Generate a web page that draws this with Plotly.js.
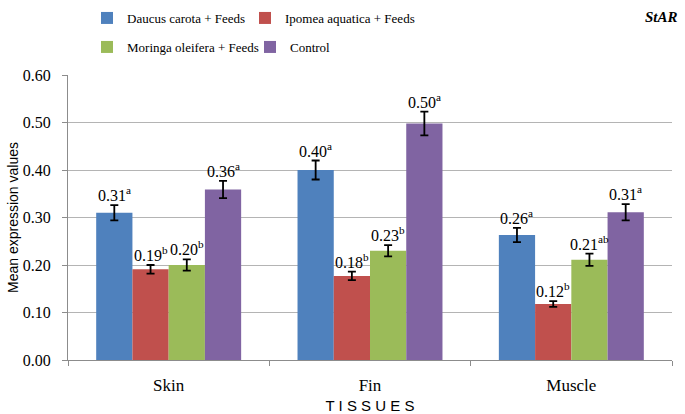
<!DOCTYPE html>
<html>
<head>
<meta charset="utf-8">
<script src="https://cdn.plot.ly/plotly-3.0.1.min.js"></script>
<style>
  body { margin: 0; background: #ffffff; }
  #chart { width: 685px; height: 414px; }
</style>
</head>
<body>
<div id="chart"></div>
<script>
// tissues on the x axis
var tissues = ["Skin", "Fin", "Muscle"];

// mean expression per treatment (Skin, Fin, Muscle)
var daucus   = [0.310, 0.400, 0.263];
var ipomea   = [0.191, 0.177, 0.118];
var moringa  = [0.200, 0.230, 0.211];
var control  = [0.359, 0.498, 0.311];

// error bar half heights
var daucusErr  = [0.016, 0.020, 0.015];
var ipomeaErr  = [0.009, 0.009, 0.006];
var moringaErr = [0.012, 0.012, 0.013];
var controlErr = [0.018, 0.025, 0.017];

// significance letters
var daucusSig  = ["a", "a", "a"];
var ipomeaSig  = ["b", "b", "b"];
var moringaSig = ["b", "b", "ab"];
var controlSig = ["a", "a", "a"];

var yTicks = [0, 0.1, 0.2, 0.3, 0.4, 0.5, 0.6];

var SERIF = "Liberation Serif, Times New Roman, Times, serif";
var SANS = "Liberation Sans, Arial, sans-serif";

var series = [
  {name: "Daucus carota + Feeds",    y: daucus,  err: daucusErr,  sig: daucusSig,  color: "#4F81BD"},
  {name: "Ipomea aquatica + Feeds",  y: ipomea,  err: ipomeaErr,  sig: ipomeaSig,  color: "#C0504D"},
  {name: "Moringa oleifera + Feeds", y: moringa, err: moringaErr, sig: moringaSig, color: "#9BBB59"},
  {name: "Control",                  y: control, err: controlErr, sig: controlSig, color: "#8064A2"}
];

// one small legend per entry so the two rows can be laid out like the original
var legendSpots = [
  {x: 87, y: 18}, {x: 245, y: 18},
  {x: 87, y: 47}, {x: 250, y: 47}
];

var bargap = 0.28;
var barW = (1 - bargap) / series.length;

var traces = [];
var annotations = [];
var layout = {};
series.forEach(function (s, k) {
  var legName = k === 0 ? "legend" : "legend" + (k + 1);
  traces.push({
    type: "bar",
    name: s.name,
    x: tissues,
    y: s.y,
    legend: legName,
    marker: {color: s.color},
    error_y: {type: "data", array: s.err, visible: true, color: "#000000", thickness: 1.8, width: 4},
    hoverinfo: "none"
  });
  layout[legName] = {
    orientation: "h", xref: "container", yref: "container",
    x: legendSpots[k].x / 685, y: 1 - legendSpots[k].y / 414,
    xanchor: "left", yanchor: "middle",
    bgcolor: "rgba(0,0,0,0)",
    font: {family: SERIF, size: 13, color: "#000000"},
    itemclick: false
  };
  // label sits above the error bar of each bar
  var off = (k - (series.length - 1) / 2) * barW;
  s.y.forEach(function (v, i) {
    annotations.push({
      x: i + off, y: v + s.err[i], xref: "x", yref: "y",
      text: v.toFixed(2) + "<sup>" + s.sig[i] + "</sup>",
      showarrow: false, xanchor: "center", yanchor: "bottom", yshift: -1,
      font: {family: SERIF, size: 16, color: "#000000"}
    });
  });
});

annotations.push({
  text: "<b><i>StAR</i></b>", xref: "paper", yref: "paper", x: 1, y: 1.205,
  xanchor: "right", yanchor: "middle", xshift: 8, showarrow: false,
  font: {family: SERIF, size: 15, color: "#000000"}
});

Object.assign(layout, {
  width: 685,
  height: 414,
  margin: {l: 68, r: 13, t: 75, b: 54},
  paper_bgcolor: "#ffffff",
  plot_bgcolor: "#ffffff",
  font: {family: SERIF, color: "#000000"},
  barmode: "group",
  bargap: bargap,
  bargroupgap: 0,
  showlegend: true,
  xaxis: {
    type: "category",
    showline: true, linecolor: "#8C8C8C", linewidth: 1,
    ticks: "outside", tickson: "boundaries", ticklen: 5, tickcolor: "#8C8C8C",
    ticklabelstandoff: 10,
    tickfont: {family: SERIF, size: 17, color: "#000000"},
    title: {text: "T I S S U E S", font: {family: SANS, size: 15, color: "#000000"}, standoff: 8}
  },
  yaxis: {
    range: [0, 0.6],
    tickvals: yTicks,
    tickformat: ".2f",
    showline: true, linecolor: "#8C8C8C", linewidth: 1,
    ticks: "outside", ticklen: 5, tickcolor: "#8C8C8C",
    ticklabelstandoff: 8,
    showgrid: true, gridcolor: "#B4B4B4", gridwidth: 1,
    zeroline: false,
    tickfont: {family: SERIF, size: 16, color: "#000000"},
    title: {text: "Mean expression values", font: {family: SANS, size: 14, color: "#000000"}, standoff: 0}
  },
  annotations: annotations
});

Plotly.newPlot("chart", traces, layout, {displayModeBar: false, staticPlot: true});
</script>
</body>
</html>
